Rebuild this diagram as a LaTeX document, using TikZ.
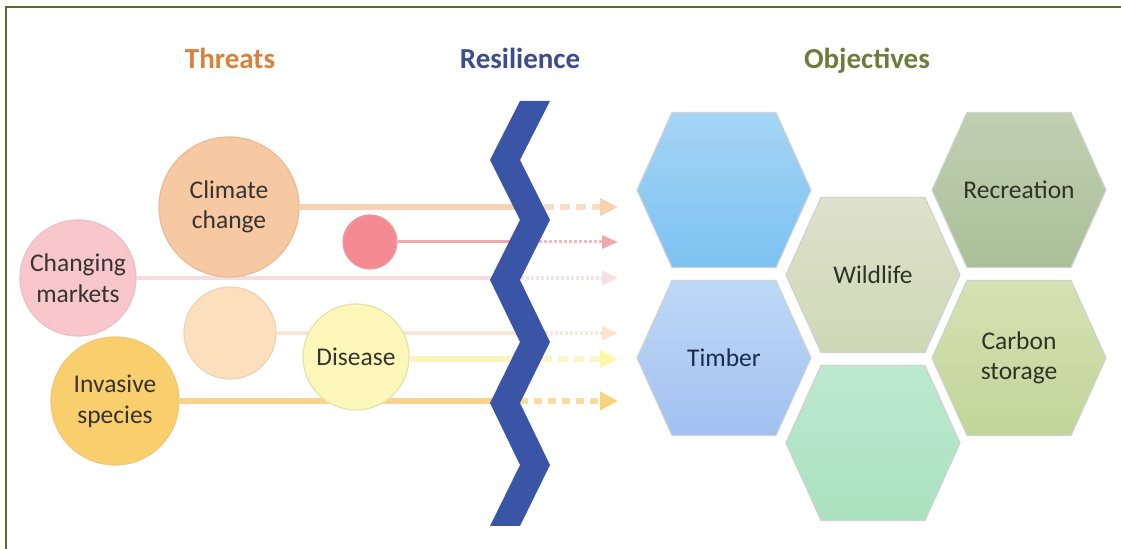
\documentclass[tikz,border=0pt]{standalone}
\usepackage{fontspec}
\setmainfont{Carlito}
\usetikzlibrary{arrows.meta,positioning,backgrounds}

% heading colours
\definecolor{threatorange}{HTML}{D9813A}
\definecolor{resilblue}{HTML}{3D4B8F}
\definecolor{objolive}{HTML}{6E7B3E}
\definecolor{frameolive}{HTML}{5B6B2C}
\definecolor{labelgray}{HTML}{363330}
% threat circles and their lines
\definecolor{climatefill}{HTML}{F7C9A2}
\definecolor{climateedge}{HTML}{E6BC96}
\definecolor{climateline}{HTML}{F6D3B6}
\definecolor{redfill}{HTML}{F68A92}
\definecolor{rededge}{HTML}{E99AA0}
\definecolor{redline}{HTML}{F2A8AF}
\definecolor{marketfill}{HTML}{F8C7CC}
\definecolor{marketedge}{HTML}{EBC0C4}
\definecolor{marketline}{HTML}{F6DCE0}
\definecolor{blankfill}{HTML}{FCE0BE}
\definecolor{blankedge}{HTML}{EDD3B5}
\definecolor{blankline}{HTML}{F6E6D2}
\definecolor{diseasefill}{HTML}{FDF7B9}
\definecolor{diseaseedge}{HTML}{E8E1A8}
\definecolor{diseaseline}{HTML}{FCF3C0}
\definecolor{invasivefill}{HTML}{F9CF6D}
\definecolor{invasiveedge}{HTML}{EFC77A}
\definecolor{invasiveline}{HTML}{F9D38C}
% the barrier
\definecolor{zigblue}{HTML}{3A55A6}
% objective cells
\definecolor{hexedge}{HTML}{CFD3D0}
\definecolor{skytop}{HTML}{A5D5F5}
\definecolor{skybot}{HTML}{7CC2F2}
\definecolor{timbertop}{HTML}{BED8F7}
\definecolor{timberbot}{HTML}{A2C1F1}
\definecolor{wildtop}{HTML}{DEE1CB}
\definecolor{wildbot}{HTML}{D0D7B6}
\definecolor{recrtop}{HTML}{C1CFB2}
\definecolor{recrbot}{HTML}{AABF98}
\definecolor{carbtop}{HTML}{D5E2B3}
\definecolor{carbbot}{HTML}{C0D598}
\definecolor{minttop}{HTML}{BCE9CF}
\definecolor{mintbot}{HTML}{A9E2BF}
\definecolor{timbertext}{HTML}{1C2B4A}
\definecolor{hextext}{HTML}{2E3424}

\begin{document}
\begin{tikzpicture}[x=0.5pt, y=-0.5pt,
  threat/.style={circle, inner sep=0pt, align=center, line width=0.6pt, text=labelgray,
                 font=\fontsize{12.75}{15.3}\selectfont},
  objective/.style={align=center, inner sep=0pt, text=hextext,
                    font=\fontsize{12.75}{15.3}\selectfont},
  heading/.style={anchor=base, font=\fontsize{14.5}{17}\selectfont\bfseries},
  hexcell/.style={draw=hexedge, line width=0.6pt}]
    \useasboundingbox (0,0) rectangle (1121,549);

    % Frame (top and left edges only)
    \draw[frameolive, line width=1.2pt] (6,549) -- (6,7) -- (1121,7);

    % Column headings
    \node[heading, text=threatorange] (threats) at (230,69) {Threats};
    \node[heading, text=resilblue] (resilience) at (520,69) {Resilience};
    \node[heading, text=objolive] (objectives) at (867,69) {Objectives};

    % Threat circles
    \node[threat, fill=climatefill, draw=climateedge, minimum size=70pt] (climate) at (229,207) {Climate\\change};
    \node[threat, fill=redfill, draw=rededge, minimum size=27pt] (redspot) at (370,242) {};
    \node[threat, fill=marketfill, draw=marketedge, minimum size=58pt] (markets) at (78,278) {Changing\\markets};
    \node[threat, fill=blankfill, draw=blankedge, minimum size=46pt] (blank) at (230,333) {};
    \node[threat, fill=diseasefill, draw=diseaseedge, minimum size=53pt] (disease) at (356,357) {Disease};
    \node[threat, fill=invasivefill, draw=invasiveedge, minimum size=64pt] (invasive) at (115,401) {Invasive\\species};

    % Where each line passes under the barrier, and where its arrow ends
    \coordinate (cut1) at (528,207);   \coordinate (tip1) at (618,207);
    \coordinate (cut2) at (524,242);   \coordinate (tip2) at (618,242);
    \coordinate (cut3) at (506,278);   \coordinate (tip3) at (618,278);
    \coordinate (cut4) at (530,333);   \coordinate (tip4) at (618,333);
    \coordinate (cut5) at (526,359);   \coordinate (tip5) at (618,359);
    \coordinate (cut6) at (506,401);   \coordinate (tip6) at (618,401);

    % Threat lines: solid up to the barrier, broken and paler beyond it
    \begin{scope}[on background layer]
        \draw[climateline, line width=3pt] (climate) -- (cut1);
        \draw[climateline!75!white, line width=3pt, dash pattern=on 5pt off 3pt,
              -{Triangle[length=9pt, width=8.5pt, color=climatefill!85!white]}] (cut1) -- (tip1);
        \draw[redline, line width=1.5pt] (redspot) -- (cut2);
        \draw[redline!80!white, line width=1.5pt, dash pattern=on 1.5pt off 1pt,
              -{Triangle[length=8pt, width=6.5pt, color=rededge!85!white]}] (cut2) -- (tip2);
        \draw[marketline, line width=2pt] (markets) -- (cut3);
        \draw[marketline!85!white, line width=2pt, dash pattern=on 1.5pt off 1pt,
              -{Triangle[length=8pt, width=7pt, color=marketline!90!white]}] (cut3) -- (tip3);
        \draw[blankline, line width=2pt] (blank) -- (cut4);
        \draw[blankline!85!white, line width=2pt, dash pattern=on 1.5pt off 1pt,
              -{Triangle[length=8pt, width=7pt, color=blankfill!85!white]}] (cut4) -- (tip4);
        \draw[diseaseline, line width=3pt] (disease.east |- cut5) -- (cut5);
        \draw[diseaseline!85!white, line width=3pt, dash pattern=on 5pt off 3pt,
              -{Triangle[length=9pt, width=8.5pt, color=diseasefill!90!yellow]}] (cut5) -- (tip5);
        \draw[invasiveline, line width=3pt] (invasive) -- (cut6);
        \draw[invasiveline!80!white, line width=3pt, dash pattern=on 4pt off 3pt,
              -{Triangle[length=9pt, width=9pt, color=invasivefill!90!white]}] (cut6) -- (tip6);
    \end{scope}

    % Resilience barrier
    \fill[zigblue] (520,101) -- (490,160) -- (520,220) -- (490,280) -- (520,342)
                   -- (490,403) -- (520,465) -- (490,526) -- (520,526) -- (550,465)
                   -- (520,403) -- (550,342) -- (520,280) -- (550,220) -- (520,160)
                   -- (550,101) -- cycle;

    % Objective cells
    \foreach \cell/\cx/\cy/\ctop/\cbot in {sky/724/190/skytop/skybot,
                                           timber/724/358/timbertop/timberbot,
                                           wildlife/873/275/wildtop/wildbot,
                                           mint/873/443/minttop/mintbot,
                                           recreation/1019/190/recrtop/recrbot,
                                           carbon/1019/358/carbtop/carbbot} {
        \coordinate (\cell) at (\cx,\cy);
        \draw[hexcell, top color=\ctop, bottom color=\cbot]
            (\cell) ++(-87,0) -- ++(35,-77.5) -- ++(104,0) -- ++(35,77.5)
            -- ++(-35,77.5) -- ++(-104,0) -- cycle;
    }
    \node[objective, text=timbertext] (timberlbl) at (timber) {Timber};
    \node[objective] (wildlifelbl) at (wildlife) {Wildlife};
    \node[objective] (recreationlbl) at (recreation) {Recreation};
    \node[objective] (carbonlbl) at (carbon) {Carbon\\storage};
\end{tikzpicture}
\end{document}
